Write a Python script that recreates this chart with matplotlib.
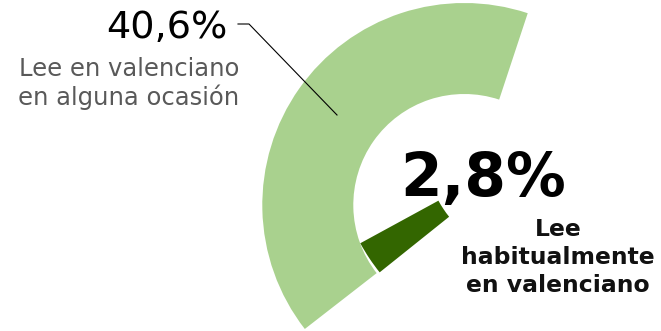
"""
Gauge-style doughnut: reading in Valencian
"""
import matplotlib
matplotlib.use("Agg")
import matplotlib.pyplot as plt

# data
occasional_share = [40.6, 59.4]     # lee en valenciano en alguna ocasión
habitual_share = [2.8, 97.2]        # lee habitualmente en valenciano
occasional_label = "40,6%"
occasional_text = "Lee en valenciano\nen alguna ocasión"
habitual_label = "2,8%"
habitual_text = "Lee\nhabitualmente\nen valenciano"

LIGHT = "#a9d18e"
DARK = "#336600"
GREY = "#595959"

W, H = 661, 331
fig = plt.figure(figsize=(W / 100, H / 100), dpi=100, facecolor="white")
ax = fig.add_axes([0, 0, 1, 1])

# light ring (full circle = 100%)
ax.pie(occasional_share, colors=[LIGHT, "none"], startangle=71.7,
       counterclock=True, radius=202, center=(464.3, H - 205),
       wedgeprops=dict(width=91, edgecolor="none", linewidth=0))

# dark inner slice
ax.pie(habitual_share, colors=[DARK, "none"], startangle=208.6,
       counterclock=True, radius=199, center=(535, H - 148),
       wedgeprops=dict(width=89, edgecolor="none", linewidth=0))

ax.set_xlim(0, W)
ax.set_ylim(0, H)
ax.set_aspect("equal")
ax.axis("off")

# labels (multi-line baseline = last line)
ax.text(228, H - 37.5, occasional_label, ha="right", va="baseline",
        fontsize=27.5, color="black")
ax.text(129, H - 105, occasional_text, ha="center", va="baseline",
        fontsize=17.5, color=GREY, linespacing=1.19)
ax.plot([238, 249, 337], [H - 24, H - 24, H - 115], color="black", lw=0.8)

ax.text(483, H - 196, habitual_label, ha="center", va="baseline",
        fontsize=43, fontweight="bold", color="black")
ax.text(558, H - 291.5, habitual_text, ha="center", va="baseline",
        fontsize=16.9, fontweight="bold", color="#111111", linespacing=1.27)

fig.savefig("out.png", dpi=100, facecolor="white")
